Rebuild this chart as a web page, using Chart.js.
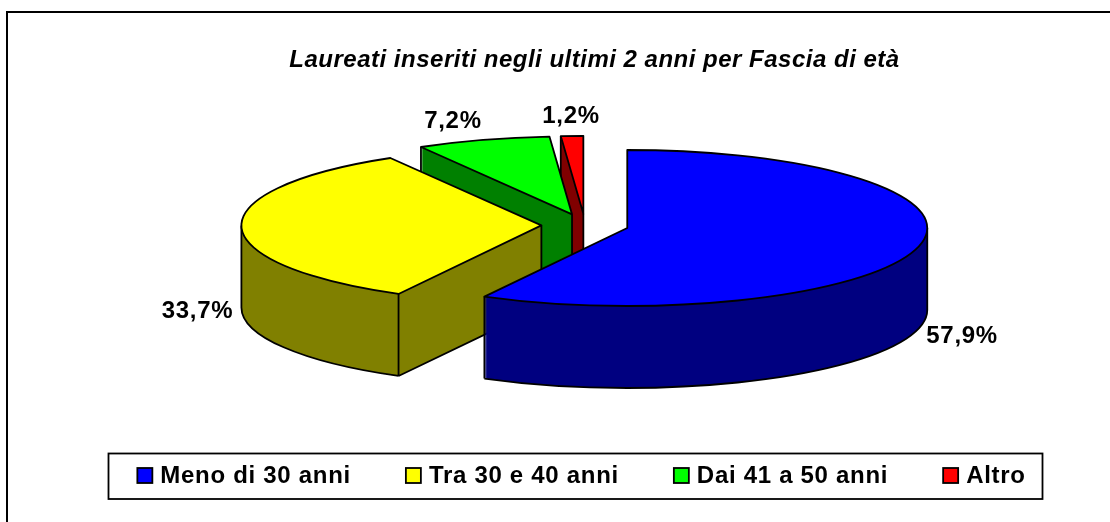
<!DOCTYPE html>
<html lang="it">
<head>
<meta charset="UTF-8">
<title>Laureati per fascia di età</title>
<script src="https://cdn.jsdelivr.net/npm/chart.js"></script>
<style>
  html, body { margin: 0; padding: 0; background: #fff; }
  canvas { display: block; }
</style>
</head>
<body>
<canvas id="pie3d" width="1110" height="522"></canvas>
<script>
const titleText = "Laureati inseriti negli ultimi 2 anni per Fascia di età";
const categories = ["Meno di 30 anni", "Tra 30 e 40 anni", "Dai 41 a 50 anni", "Altro"];
const values = [57.9, 33.7, 7.2, 1.2];
const topColors = ["#0000FF", "#FFFF00", "#00FF00", "#FF0000"];
const sideColors = ["#000080", "#808000", "#008000", "#800000"];
// where each percentage sits, relative to the rim at the slice's middle
const labelShift = [[44, 89], [-44, 85], [-30, -19], [-1, -20]];

const FONT = '"Liberation Sans", Arial, sans-serif';
const TILT = 0.26;       // vertical squash of the pie
const DEPTH = 82;        // height of the side wall, px
const EXPLODE = 43.6;    // how far each slice is pulled out
const LEGEND_SPACING = "0.7px";
const TITLE_SPACING = "0.5px";
const LINE = 1.8;

function sliceCentre(arc) {
  const mid = (arc.startAngle + arc.endAngle) / 2;
  return {
    x: arc.x + Math.cos(mid) * EXPLODE,
    y: arc.y + Math.sin(mid) * EXPLODE * TILT
  };
}

function rimPoint(c, arc, angle) {
  return {
    x: c.x + Math.cos(angle) * arc.outerRadius,
    y: c.y + Math.sin(angle) * arc.outerRadius * TILT
  };
}

function sectorPath(ctx, c, arc, dy) {
  ctx.beginPath();
  ctx.moveTo(c.x, c.y + dy);
  ctx.ellipse(c.x, c.y + dy, arc.outerRadius, arc.outerRadius * TILT, 0, arc.startAngle, arc.endAngle);
  ctx.closePath();
}

function drawWall(ctx, arc, i) {
  const c = sliceCentre(arc);
  const s = arc.startAngle, e = arc.endAngle;

  ctx.fillStyle = sideColors[i];
  for (let d = DEPTH; d >= 0; d--) {
    sectorPath(ctx, c, arc, d);
    ctx.fill();
  }

  // only the edges that face the viewer get a line
  const startFace = Math.cos(s) < -1e-6;
  const endFace = Math.cos(e) > 1e-6;
  const verticals = [];
  if (startFace || Math.sin(s) > 0) verticals.push(rimPoint(c, arc, s));
  if (endFace || Math.sin(e) > 0) verticals.push(rimPoint(c, arc, e));
  if (startFace || endFace) verticals.push(c);
  [0, Math.PI].forEach(a => {
    if (s < a && a < e) verticals.push(rimPoint(c, arc, a));
  });

  ctx.beginPath();
  verticals.forEach(p => {
    ctx.moveTo(p.x, p.y);
    ctx.lineTo(p.x, p.y + DEPTH);
  });
  if (startFace) {
    const p = rimPoint(c, arc, s);
    ctx.moveTo(c.x, c.y + DEPTH);
    ctx.lineTo(p.x, p.y + DEPTH);
  }
  if (endFace) {
    const p = rimPoint(c, arc, e);
    ctx.moveTo(c.x, c.y + DEPTH);
    ctx.lineTo(p.x, p.y + DEPTH);
  }
  const a0 = Math.max(s, 0), a1 = Math.min(e, Math.PI);
  if (a1 > a0) {
    const p = rimPoint(c, arc, a0);
    ctx.moveTo(p.x, p.y + DEPTH);
    ctx.ellipse(c.x, c.y + DEPTH, arc.outerRadius, arc.outerRadius * TILT, 0, a0, a1);
  }
  ctx.stroke();
}

function drawTop(ctx, arc) {
  const c = sliceCentre(arc);
  ctx.save();
  ctx.translate(c.x, c.y);
  ctx.scale(1, TILT);
  ctx.translate(-arc.x, -arc.y);
  arc.draw(ctx);
  ctx.restore();
  sectorPath(ctx, c, arc, 0);
  ctx.stroke();
}

const pie3dPlugin = {
  id: "pie3d",
  beforeUpdate(chart) {
    chart.ctx.letterSpacing = LEGEND_SPACING;
  },
  afterLayout(chart) {
    chart.legend.left -= 3.5;
    chart.legend.right -= 3.5;
  },
  beforeDraw(chart) {
    const ctx = chart.ctx;
    ctx.letterSpacing = LEGEND_SPACING;
    ctx.save();
    ctx.fillStyle = "#fff";
    ctx.fillRect(0, 0, chart.width, chart.height);
    ctx.fillStyle = "#000";
    ctx.fillRect(6, 11, 2, chart.height - 11);
    ctx.fillRect(6, 11, chart.width - 6, 2);
    // box round the legend
    ctx.strokeStyle = "#000";
    ctx.lineWidth = LINE;
    ctx.strokeRect(108.5, 453.5, 934, 45.5);
    ctx.restore();
  },
  beforeDatasetsDraw(chart) {
    const ctx = chart.ctx;
    const arcs = chart.getDatasetMeta(0).data;
    ctx.save();
    ctx.strokeStyle = "#000";
    ctx.lineWidth = LINE;
    ctx.lineJoin = "round";
    // back to front
    for (let i = arcs.length - 1; i >= 0; i--) {
      drawWall(ctx, arcs[i], i);
      drawTop(ctx, arcs[i]);
    }

    ctx.fillStyle = "#000";
    ctx.textAlign = "center";
    ctx.textBaseline = "middle";
    ctx.font = "bold 24px " + FONT;
    arcs.forEach((arc, i) => {
      const p = rimPoint(sliceCentre(arc), arc, (arc.startAngle + arc.endAngle) / 2);
      const text = values[i].toFixed(1).replace(".", ",") + "%";
      ctx.fillText(text, p.x + labelShift[i][0], p.y + labelShift[i][1]);
    });

    ctx.letterSpacing = TITLE_SPACING;
    ctx.font = "italic bold 24px " + FONT;
    ctx.fillText(titleText, 594.5, 60.5);
    ctx.restore();
    return false;
  },
  afterDraw(chart) {
    // legend swatches are a bit bigger than the gap the legend leaves for them
    const ctx = chart.ctx;
    ctx.save();
    ctx.strokeStyle = "#000";
    ctx.lineWidth = LINE;
    chart.legend.legendHitBoxes.forEach((box, i) => {
      const y = box.top + box.height / 2 - 8.5;
      ctx.fillStyle = topColors[i];
      ctx.fillRect(box.left, y, 15, 15);
      ctx.strokeRect(box.left, y, 15, 15);
    });
    ctx.restore();
  }
};

new Chart(document.getElementById("pie3d"), {
  type: "pie",
  plugins: [pie3dPlugin],
  data: {
    labels: categories,
    datasets: [{
      data: values,
      backgroundColor: topColors,
      borderWidth: 0,
      radius: 300
    }]
  },
  options: {
    responsive: false,
    animation: false,
    layout: { padding: { left: 60, right: 0, top: 40.9, bottom: 23.5 } },
    plugins: {
      tooltip: { enabled: false },
      title: { display: false },
      legend: {
        position: "bottom",
        labels: {
          boxWidth: 11,
          boxHeight: 11,
          padding: 55,
          color: "#000",
          font: { family: FONT, size: 24, weight: "bold" }
        }
      }
    }
  }
});
</script>
</body>
</html>
